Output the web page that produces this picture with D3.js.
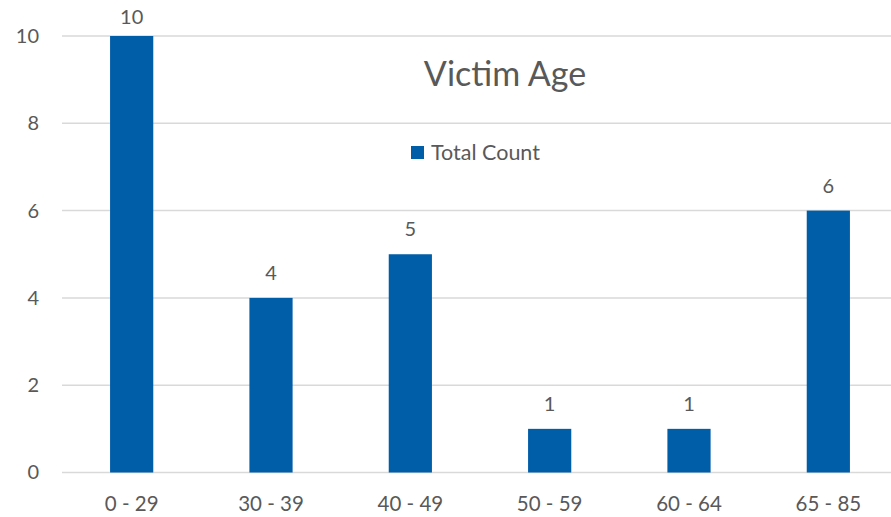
<!DOCTYPE html>
<html>
<head>
<meta charset="utf-8">
<script src="https://cdn.jsdelivr.net/npm/d3@7"></script>
<style>
  body { margin: 0; background: #fff; }
  text { font-family: Lato, "Open Sans", sans-serif; fill: #595959; }
</style>
</head>
<body>
<div id="chart-area"></div>
<script>
// chart data
var categories = ["0 - 29", "30 - 39", "40 - 49", "50 - 59", "60 - 64", "65 - 85"];
var counts = [10, 4, 5, 1, 1, 6];
var yTicks = [0, 2, 4, 6, 8, 10];
var seriesName = "Total Count";
var title = "Victim Age";

var W = 891, H = 517;
var margin = { left: 62, right: -7, top: 36, bottom: 44.5 };
var width = W - margin.left - margin.right;
var height = H - margin.top - margin.bottom;

var svg = d3.select("#chart-area").append("svg")
  .attr("width", W)
  .attr("height", H);

var g = svg.append("g")
  .attr("transform", "translate(" + margin.left + "," + margin.top + ")");

// X Scale
var x = d3.scaleBand()
  .domain(categories)
  .range([0, width]);

// Y Scale
var y = d3.scaleLinear()
  .domain([0, 10])
  .range([height, 0]);

// gridlines
g.selectAll("line.grid")
  .data(yTicks)
  .enter()
  .append("line")
  .attr("class", "grid")
  .attr("x1", 0)
  .attr("x2", width)
  .attr("y1", function(d) { return y(d); })
  .attr("y2", function(d) { return y(d); })
  .attr("stroke", "#d9d9d9")
  .attr("stroke-width", 1.5);

// Y Axis labels
var yAxisCall = d3.axisLeft(y).tickValues(yTicks).tickSize(0).tickPadding(23);
var yAxis = g.append("g").call(yAxisCall);
yAxis.select(".domain").remove();
yAxis.selectAll("text")
  .attr("font-size", "20px")
  .attr("fill", "#595959")
  .attr("font-family", "Lato, 'Open Sans', sans-serif");

// X Axis labels
var xAxisCall = d3.axisBottom(x).tickSize(0).tickPadding(24);
var xAxis = g.append("g")
  .attr("transform", "translate(0," + height + ")")
  .call(xAxisCall);
xAxis.select(".domain").remove();
xAxis.selectAll("text")
  .attr("font-size", "20.5px")
  .attr("fill", "#595959")
  .attr("font-family", "Lato, 'Open Sans', sans-serif");

// bars
var barW = x.bandwidth() * 0.31;
g.selectAll("rect.bar")
  .data(counts)
  .enter()
  .append("rect")
  .attr("class", "bar")
  .attr("x", function(d, i) { return x(categories[i]) + (x.bandwidth() - barW) / 2; })
  .attr("y", function(d) { return y(d); })
  .attr("width", barW)
  .attr("height", function(d) { return height - y(d); })
  .attr("fill", "#005da8");

// data labels (kept inside the chart at the top)
g.selectAll("text.label")
  .data(counts)
  .enter()
  .append("text")
  .attr("class", "label")
  .attr("x", function(d, i) { return x(categories[i]) + x.bandwidth() / 2; })
  .attr("y", function(d) { return Math.max(y(d) - 18, -12); })
  .attr("text-anchor", "middle")
  .attr("font-size", "20px")
  .text(function(d) { return d; });

// title
svg.append("text")
  .attr("x", 505)
  .attr("y", 86)
  .attr("text-anchor", "middle")
  .attr("font-size", "34px")
  .text(title);

// legend
svg.append("rect")
  .attr("x", 411)
  .attr("y", 146)
  .attr("width", 13)
  .attr("height", 13)
  .attr("fill", "#005da8");
svg.append("text")
  .attr("x", 431)
  .attr("y", 160)
  .attr("font-size", "21.5px")
  .text(seriesName);
</script>
</body>
</html>
